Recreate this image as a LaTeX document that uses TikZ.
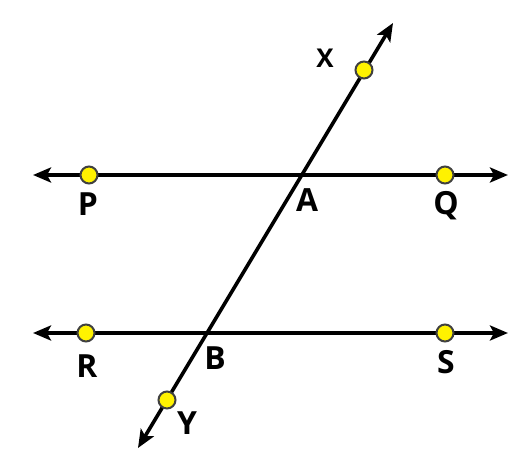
\documentclass[tikz,border=0pt]{standalone}
\usepackage{fontspec}
\setmainfont{Open Sans}
\usetikzlibrary{arrows.meta}
\tikzset{
	ray/.style={line width=3.6bp, {Stealth[length=18bp,width=15bp,inset=4bp]}-{Stealth[length=18bp,width=15bp,inset=4bp]}},
	pt/.style={circle, draw=black!75, line width=2bp, fill=yellow, minimum size=17bp, inner sep=0pt},
	lbl/.style={font=\fontsize{32}{34}\selectfont\bfseries, inner sep=0pt},
	lblsmall/.style={font=\fontsize{26}{28}\selectfont\bfseries, inner sep=0pt}
}
\begin{document}
\begin{tikzpicture}[x=1bp, y=-1bp]
		%%%%% FRAME %%%%%
		\useasboundingbox (0, 0) rectangle (525, 458);
		
		%%%%% LINE ENDS %%%%%
		\coordinate (pqW) at (33, 175);
		\coordinate (pqE) at (508, 175);
		\coordinate (rsW) at (33, 333);
		\coordinate (rsE) at (508, 333);
		\coordinate (xyN) at (393, 23);
		\coordinate (xyS) at (138, 448);
		
		\draw[ray] (pqW) -- (pqE);
		\draw[ray] (rsW) -- (rsE);
		\draw[ray] (xyS) -- (xyN);
		
		%%%%% POINTS %%%%%
		\node[pt] (P) at (89, 175) {};
		\node[pt] (Q) at (445, 175) {};
		\node[pt] (R) at (86, 333) {};
		\node[pt] (S) at (445, 333) {};
		\node[pt] (X) at (364, 70) {};
		\node[pt] (Y) at (167, 400) {};
		
		%%%%% LABELS %%%%%
		\node[lbl] (labP) at (88, 204) {P};
		\node[lbl] (labQ) at (446, 206) {Q};
		\node[lbl] (labA) at (307, 200) {A};
		\node[lbl] (labR) at (87, 366) {R};
		\node[lbl] (labS) at (446, 362) {S};
		\node[lbl] (labB) at (215, 358) {B};
		\node[lbl] (labY) at (187, 423) {Y};
		\node[lblsmall] (labX) at (325, 58) {X};
		
		%%%%% END %%%%%
	\end{tikzpicture}
\end{document}
